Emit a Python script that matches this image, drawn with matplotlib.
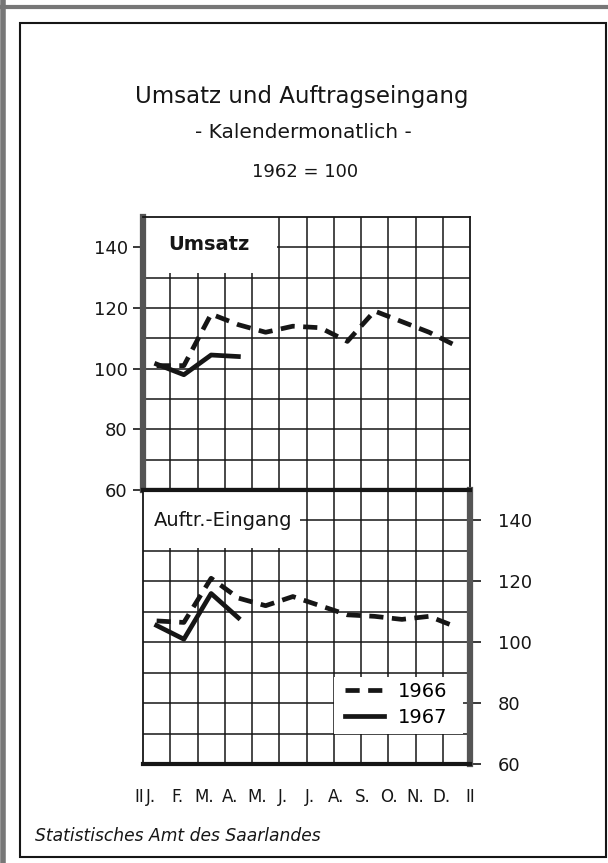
import numpy as np
import matplotlib
matplotlib.use("Agg")
import matplotlib.pyplot as plt
from matplotlib.patches import Rectangle

# values (1962 = 100)
months = ["J.", "F.", "M.", "A.", "M.", "J.", "J.", "A.", "S.", "O.", "N.", "D."]
umsatz_1966 = [101, 101, 118, 114.5, 112, 114, 113.5, 109, 119, 115.5, 112, 107.5]
umsatz_1967 = [101.5, 98, 104.5, 104]
auftr_1966 = [107, 106.5, 121, 114.5, 112, 115, 112, 109, 108.5, 107.5, 108.5, 105]
auftr_1967 = [105.5, 101, 116, 108]
y_ticks = [60, 80, 100, 120, 140]

W, H = 608, 863
INK = "#161616"


def fx(px):
    return px / W


def fy(py):
    return 1 - py / H


fig = plt.figure(figsize=(W / 100, H / 100), dpi=100)
fig.patch.set_facecolor("white")

# outer page frame
fig.add_artist(plt.Line2D([fx(3), fx(3)], [fy(0), fy(863)], color="#777", lw=4))
fig.add_artist(plt.Line2D([fx(0), fx(608)], [fy(7), fy(7)], color="#777", lw=3))
fig.add_artist(Rectangle((fx(20), fy(857)), fx(606) - fx(20), fy(23) - fy(857),
                         fill=False, ec=INK, lw=1.5, transform=fig.transFigure))

fig.text(fx(302), fy(97), "Umsatz und Auftragseingang", ha="center", va="center",
         fontsize=16.5, color=INK)
fig.text(fx(303), fy(133), "- Kalendermonatlich -", ha="center", va="center",
         fontsize=14.5, color=INK)
fig.text(fx(305), fy(172), "1962 = 100", ha="center", va="center",
         fontsize=13, color=INK)
fig.text(fx(35), fy(836), "Statistisches Amt des Saarlandes", ha="left", va="center",
         fontsize=12.3, style="italic", color=INK)

left, right = 143, 470
ax_top = fig.add_axes([fx(left), fy(490), fx(right) - fx(left), fy(217) - fy(490)])
ax_bot = fig.add_axes([fx(left), fy(764), fx(right) - fx(left), fy(490) - fy(764)])

x = np.arange(12) + 0.5

for ax in (ax_top, ax_bot):
    ax.set_xlim(0, 12)
    ax.set_ylim(60, 150)
    for gx in range(1, 12):
        ax.axvline(gx, color=INK, lw=1.1, zorder=1)
    for gy in range(70, 150, 10):
        ax.axhline(gy, color=INK, lw=1.1, zorder=1)
    for s in ax.spines.values():
        s.set_color(INK)
        s.set_linewidth(1.3)

# top panel: Umsatz
ax_top.plot(x, umsatz_1966, color=INK, lw=3.4, dashes=(3, 1.8), zorder=4)
ax_top.plot(x[:len(umsatz_1967)], umsatz_1967, color=INK, lw=3.4, zorder=4)
ax_top.set_xticks([])
ax_top.set_yticks(y_ticks)
ax_top.set_yticklabels([str(v) for v in y_ticks], fontsize=13, color=INK)
ax_top.tick_params(axis="y", length=7, width=1.2, pad=4, color=INK)
ax_top.spines["left"].set_linewidth(4.5)
ax_top.spines["left"].set_color("#555")
ax_top.spines["bottom"].set_linewidth(3)
ax_top.add_patch(Rectangle((0, 131.5), 4.92, 18.5, fc="white", ec="none", zorder=2))
ax_top.text(2.42, 140.8, "Umsatz", ha="center", va="center", fontsize=14,
            fontweight="bold", color=INK, zorder=3)

# bottom panel: Auftragseingang
l66, = ax_bot.plot(x, auftr_1966, color=INK, lw=3.4, dashes=(3, 1.8), zorder=4, label="1966")
l67, = ax_bot.plot(x[:len(auftr_1967)], auftr_1967, color=INK, lw=3.4, zorder=4, label="1967")
ax_bot.yaxis.tick_right()
ax_bot.set_yticks(y_ticks)
ax_bot.set_yticklabels([str(v) for v in y_ticks], fontsize=13, color=INK)
ax_bot.tick_params(axis="y", length=8, width=1.2, pad=12, color=INK)
ax_bot.spines["right"].set_linewidth(4.5)
ax_bot.spines["right"].set_color("#555")
ax_bot.spines["bottom"].set_linewidth(3)
ax_bot.spines["top"].set_linewidth(3)
ax_bot.add_patch(Rectangle((0, 131), 5.77, 19, fc="white", ec="none", zorder=2))
ax_bot.text(2.94, 140.1, "Auftr.-Eingang", ha="center", va="center", fontsize=14,
            color=INK, zorder=3)

ax_bot.add_patch(Rectangle((7.0, 70), 4.75, 18.5, fc="white", ec="none", zorder=2))
ax_bot.legend(handles=[l66, l67], loc="center", bbox_to_anchor=(9.28, 79.6),
              bbox_transform=ax_bot.transData, frameon=False, fontsize=14,
              handlelength=2.0, handletextpad=0.7, labelspacing=0.35,
              borderpad=0)

# month labels and the "II" end marks under the axis
lab_y = -(797 - 764) / (764 - 490)
ax_bot.set_xticks([])
for pos, m in zip(np.arange(12) * 0.97 + 0.3, months):
    ax_bot.text(pos, lab_y, m, transform=ax_bot.get_xaxis_transform(),
                ha="center", va="center", fontsize=12, color=INK)
for xm in (-0.15, 12.0):
    ax_bot.text(xm, lab_y, "II", transform=ax_bot.get_xaxis_transform(),
                ha="center", va="center", fontsize=12, color=INK)

fig.savefig("out.png", dpi=100)
